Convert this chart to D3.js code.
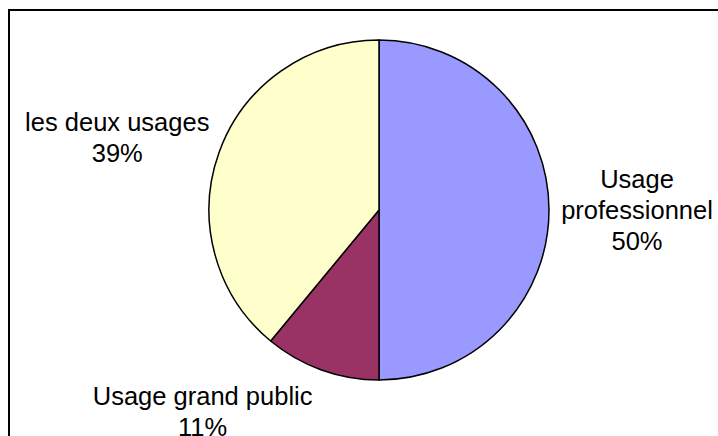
<!DOCTYPE html>
<html>
<head>
<meta charset="utf-8">
<script src="https://cdn.jsdelivr.net/npm/d3@7/dist/d3.min.js"></script>
<style>
  html, body { margin: 0; padding: 0; background: #ffffff; }
  svg { display: block; }
</style>
</head>
<body>
<svg id="chart" width="718" height="436"></svg>
<script>
// Répartition des usages
const categories = ["Usage professionnel", "Usage grand public", "les deux usages"];
const values = [50, 11, 39];
const labelLines = [["Usage", "professionnel", "50%"], ["Usage grand public", "11%"], ["les deux usages", "39%"]];
const colors = ["#9999FF", "#993366", "#FFFFCC"];

const width = 718, height = 436;
const cx = 379, cy = 210, radius = 170;
const fontSize = 25.5, lineHeight = 31;
// label placement: radial distance plus a per-slice nudge
const labelRadius = 258;
const labelNudge = [[0, 0], [-89, -41.5], [-19, 14.6]];

const svg = d3.select("#chart");

// outer frame
svg.append("rect")
  .attr("x", 9).attr("y", 10)
  .attr("width", width + 20).attr("height", height + 20)
  .attr("fill", "none").attr("stroke", "#000").attr("stroke-width", 2);

const pie = d3.pie().sort(null).value(d => d)(values);
const arc = d3.arc().innerRadius(0).outerRadius(radius);

const g = svg.append("g").attr("transform", `translate(${cx},${cy})`);

g.selectAll("path.slice")
  .data(pie)
  .join("path")
  .attr("class", "slice")
  .attr("d", arc)
  .attr("fill", (d, i) => colors[i])
  .attr("stroke", "#000")
  .attr("stroke-width", 1.5)
  .attr("stroke-linejoin", "round");

// labels
pie.forEach((d, i) => {
  const a = (d.startAngle + d.endAngle) / 2;
  const lx = labelRadius * Math.sin(a) + labelNudge[i][0];
  const ly = -labelRadius * Math.cos(a) + labelNudge[i][1];
  const lines = labelLines[i];
  const n = lines.length;
  const t = g.append("text")
    .attr("text-anchor", "middle")
    .attr("font-family", "'Liberation Sans', Arial, Helvetica, sans-serif")
    .attr("font-size", fontSize)
    .attr("fill", "#000");
  lines.forEach((line, k) => {
    t.append("tspan")
      .attr("x", lx)
      .attr("y", ly + (k - (n - 1) / 2) * lineHeight + 0.36 * fontSize)
      .text(line);
  });
});
</script>
</body>
</html>
